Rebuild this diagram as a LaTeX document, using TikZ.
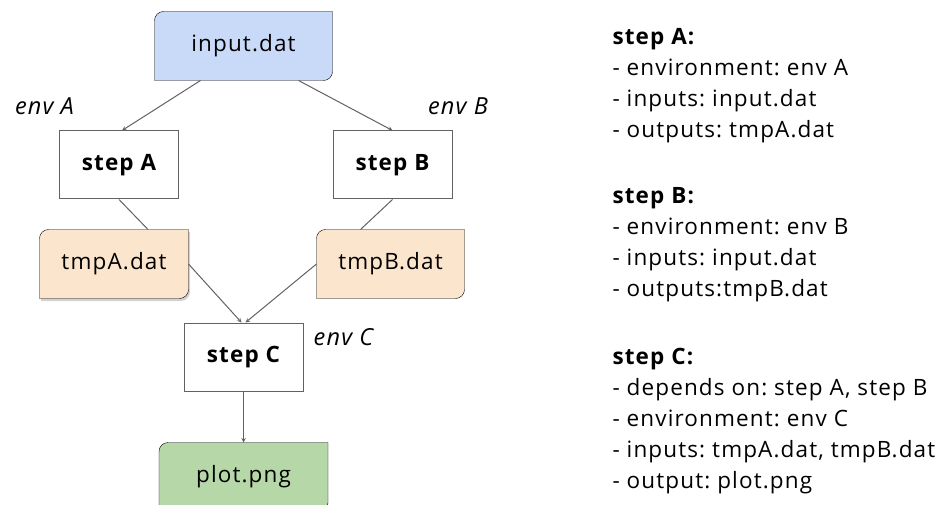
\documentclass[tikz,border=0pt]{standalone}
\usepackage{fontspec}
\setmainfont{Open Sans}[LetterSpace=5]
\frenchspacing
\usetikzlibrary{arrows,positioning,shadows,backgrounds}

\definecolor{inblue}{HTML}{C9DAF8}
\definecolor{tmporange}{HTML}{FCE5CD}
\definecolor{plotgreen}{HTML}{B6D7A8}
\definecolor{edgegray}{HTML}{626262}

\begin{document}
\begin{tikzpicture}[
	x = 1pt, y = 1pt,
	> = stealth, % arrow head style
	line width = 1pt, % line style
	draw = edgegray,
	stepbox/.style={rectangle, draw=edgegray, fill=white, minimum width=119pt, minimum height=68pt, font=\fontsize{22.5}{26}\selectfont\bfseries},
	filebox/.style={rectangle, inner sep=0pt, minimum height=68pt, font=\fontsize{22.5}{26}\selectfont},
	envlabel/.style={font=\fontsize{23.5}{26}\selectfont\itshape},
	info/.style={anchor=north west, align=left, inner sep=0pt, font=\fontsize{22.5}{31}\selectfont},
	fileoutline/.style={insert path={([yshift=-9pt]#1.north west) arc[start angle=180, end angle=90, radius=9pt] -- (#1.north east) -- ([yshift=9pt]#1.south east) arc[start angle=0, end angle=-90, radius=9pt] -- (#1.south west) -- cycle}},
	]
	\clip (0,0) rectangle (947,-505);

	% Files and steps
	\node[filebox, minimum width=177pt] (input) at (243.5,-46) {input.dat};
	\node[stepbox] (A) [below = 50pt of input, xshift=-124.5pt] {step A};
	\node[stepbox] (B) [below = 50pt of input, xshift=149pt] {step B};
	\node[filebox, minimum width=148pt] (tmpA) [below = 30pt of A, xshift=-5pt] {tmpA.dat};
	\node[filebox, minimum width=147pt] (tmpB) [below = 30pt of B, xshift=-2pt] {tmpB.dat};
	\node[stepbox] (C) at (243.5,-357) {step C};
	\node[filebox, minimum width=168pt] (plot) [below = 51pt of C] {plot.png};

	% Environments
	\node[envlabel] (envA) at (44.5,-106) {env A};
	\node[envlabel] (envB) at (458,-106) {env B};
	\node[envlabel] (envC) at (343.5,-337) {env C};

	% File shapes behind the text
	\begin{scope}[on background layer]
		\draw[fill=tmporange, drop shadow={shadow xshift=1.5pt, shadow yshift=-2.5pt, opacity=0.35}] [fileoutline=tmpA];
		\foreach \n/\c in {input/inblue, tmpB/tmporange, plot/plotgreen}
			\draw[fill=\c] [fileoutline=\n];
	\end{scope}

	% Connections
	\draw[->] ([xshift=-43pt]input.south) -- ([xshift=3pt]A.north);
	\draw[->] ([xshift=55pt]input.south) -- (B.north);
	\draw (A.south) -- ([xshift=34pt]tmpA.north);
	\draw (B.south) -- ([xshift=-30pt]tmpB.north);
	\draw[->] (tmpA.east) -- ([xshift=-2pt]C.north);
	\draw[->] (tmpB.west) -- ([xshift=2pt]C.north);
	\draw[->] (C.south) -- (plot.north);

	% Step descriptions
	\node[info] (infoA) at (612,-27.5) {\textbf{step A:}\\- environment: env A\\- inputs: input.dat\\- outputs: tmpA.dat};
	\node[info] (infoB) at (612,-186.5) {\textbf{step B:}\\- environment: env B\\- inputs: input.dat\\- outputs:tmpB.dat};
	\node[info] (infoC) at (612,-347.5) {\textbf{step C:}\\- depends on: step A, step B\\- environment: env C\\- inputs: tmpA.dat, tmpB.dat\\- output: plot.png};
\end{tikzpicture}
\end{document}
